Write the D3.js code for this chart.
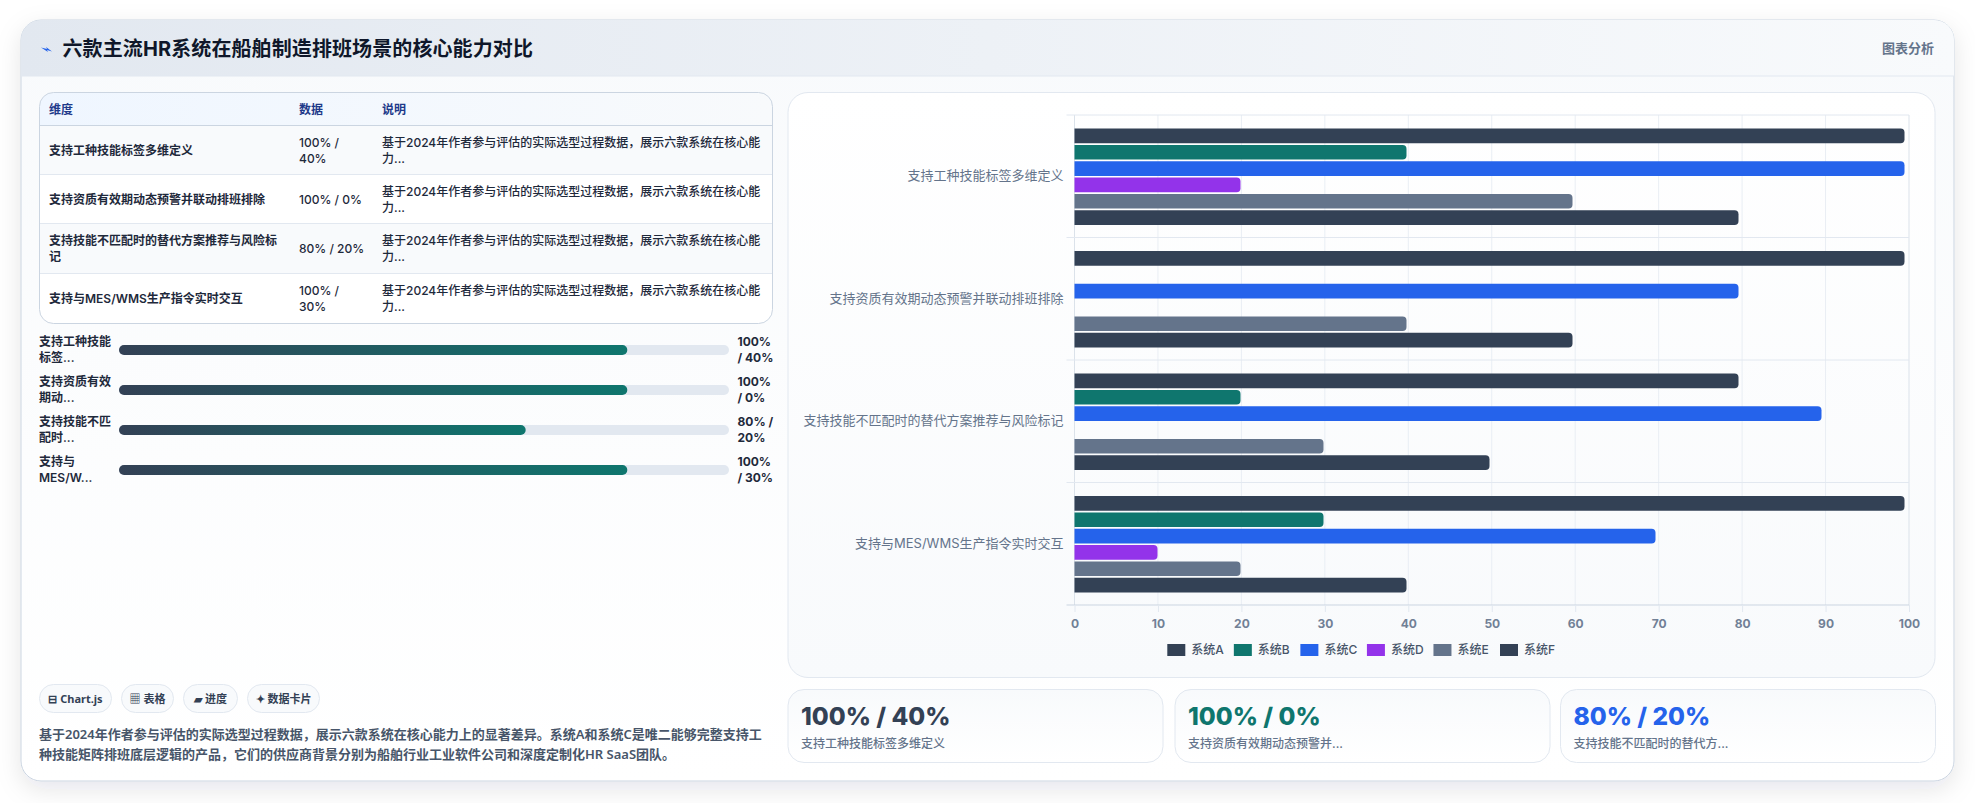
<!DOCTYPE html>
<html lang="zh-CN">
<head>
<meta charset="utf-8">
<title>六款主流HR系统在船舶制造排班场景的核心能力对比</title>
<script src="https://cdnjs.cloudflare.com/ajax/libs/d3/7.9.0/d3.min.js"></script>
<style>
  html, body { margin: 0; padding: 0; background: #fff; overflow: hidden; }
  svg { display: block; font-family: Inter, "Noto Sans CJK SC", sans-serif; }
  text { dominant-baseline: central; }
  .humanist { font-family: "Noto Sans", "Noto Sans CJK SC", sans-serif; }
</style>
</head>
<body>
<svg id="page" width="1975" height="803"></svg>
<script>
// Comparison dimensions and the six systems
const categories = ["支持工种技能标签多维定义", "支持资质有效期动态预警并联动排班排除", "支持技能不匹配时的替代方案推荐与风险标记", "支持与MES/WMS生产指令实时交互"];
const systems = ["系统A", "系统B", "系统C", "系统D", "系统E", "系统F"];
const systemColors = ["#334155", "#0f766e", "#2563eb", "#9333ea", "#64748b", "#334155"];
const systemA = [100, 100, 80, 100];
const systemB = [40, 0, 20, 30];
const systemC = [100, 80, 90, 70];
const systemD = [20, 0, 0, 10];
const systemE = [60, 40, 30, 20];
const systemF = [80, 60, 50, 40];
const seriesValues = [systemA, systemB, systemC, systemD, systemE, systemF];
const xTicks = [0, 10, 20, 30, 40, 50, 60, 70, 80, 90, 100];

// Table
const tableHead = ["维度", "数据", "说明"];
const tableDimLines = [["支持工种技能标签多维定义"], ["支持资质有效期动态预警并联动排班排除"], ["支持技能不匹配时的替代方案推荐与风险标", "记"], ["支持与MES/WMS生产指令实时交互"]];
const tableDataLines = [["100% /", "40%"], ["100% / 0%"], ["80% / 20%"], ["100% /", "30%"]];
const tableNoteLines = ["基于2024年作者参与评估的实际选型过程数据，展示六款系统在核心能", "力..."];

// Progress rows
const progressLabels = [["支持工种技能", "标签..."], ["支持资质有效", "期动..."], ["支持技能不匹", "配时..."], ["支持与", "MES/W..."]];
const progressValues = [100, 100, 80, 100];
const progressText = [["100%", "/ 40%"], ["100%", "/ 0%"], ["80% /", "20%"], ["100%", "/ 30%"]];

// Footer items
const chips = ["⊟ Chart.js", "▦ 表格", "▰ 进度", "✦ 数据卡片"];
const summaryLines = ["基于2024年作者参与评估的实际选型过程数据，展示六款系统在核心能力上的显著差异。系统A和系统C是唯二能够完整支持工", "种技能矩阵排班底层逻辑的产品，它们的供应商背景分别为船舶行业工业软件公司和深度定制化HR SaaS团队。"];
const cardValues = ["100% / 40%", "100% / 0%", "80% / 20%"];
const cardLabels = ["支持工种技能标签多维定义", "支持资质有效期动态预警并...", "支持技能不匹配时的替代方..."];
const cardColors = ["#334155", "#0f766e", "#2563eb"];

const svg = d3.select("#page");
const defs = svg.append("defs");

function linear(id, stops, x2 = "100%", y2 = "0%") {
  const g = defs.append("linearGradient").attr("id", id).attr("x1", "0%").attr("y1", "0%").attr("x2", x2).attr("y2", y2);
  stops.forEach(([o, c]) => g.append("stop").attr("offset", o).attr("stop-color", c));
}
linear("headBg", [["0%", "#e2e8f0"], ["100%", "#f8fafc"]]);
linear("cardBg", [["0%", "#f8fafc"], ["100%", "#ffffff"]], "0%", "100%");
linear("panelBg", [["0%", "#ffffff"], ["100%", "#f8fafc"]], "0%", "100%");
linear("tableHeadBg", [["0%", "#eff6ff"], ["100%", "#f8fafc"]]);
linear("fillBg", [["0%", "#334155"], ["100%", "#0f766e"]]);
linear("tileBg", [["0%", "#f8fafc"], ["100%", "#ffffff"]], "0%", "100%");
const shadow = defs.append("filter").attr("id", "cardShadow").attr("x", "-5%").attr("y", "-10%").attr("width", "110%").attr("height", "125%");
shadow.append("feDropShadow").attr("dx", 0).attr("dy", 8).attr("stdDeviation", 12).attr("flood-color", "#0f172a").attr("flood-opacity", 0.1);
defs.append("clipPath").attr("id", "cardClip").append("rect").attr("x", 21).attr("y", 20).attr("width", 1933).attr("height", 761).attr("rx", 20);
defs.append("clipPath").attr("id", "tableClip").append("rect").attr("x", 39.5).attr("y", 92.5).attr("width", 733).attr("height", 231).attr("rx", 14);

function label(parent, x, y, str, size, weight, fill, anchor = "start") {
  return parent.append("text").attr("x", x).attr("y", y).attr("font-size", size).attr("font-weight", weight)
    .attr("fill", fill).attr("text-anchor", anchor).text(str);
}

// Main card and its header
svg.append("rect").attr("x", 21).attr("y", 20).attr("width", 1933).attr("height", 761).attr("rx", 20)
  .attr("fill", "url(#cardBg)").attr("stroke", "#cbd5e1").attr("filter", "url(#cardShadow)");
const cardBody = svg.append("g").attr("clip-path", "url(#cardClip)");
cardBody.append("rect").attr("x", 21).attr("y", 20).attr("width", 1933).attr("height", 56).attr("fill", "url(#headBg)");
cardBody.append("line").attr("x1", 21).attr("x2", 1954).attr("y1", 76).attr("y2", 76).attr("stroke", "#e2e8f0");
svg.append("path").attr("d", "M41 47.5 L47 49 L46 47 L52 51.5 L47 50 L48 52 Z").attr("fill", "#2563eb");
label(svg, 62.5, 49, "六款主流HR系统在船舶制造排班场景的核心能力对比", 20, 700, "#0f172a").attr("letter-spacing", 0.1);
label(svg, 1934, 48, "图表分析", 13, 600, "#64748b", "end");

// Table built from its column arrays
const colX = [49, 299, 382];
const rowEdges = [125.5, 174.5, 223.5, 273.5, 323.5];
const rowCenters = [150, 199, 248.5, 298];
const table = svg.append("g");
const tableInner = table.append("g").attr("clip-path", "url(#tableClip)");
tableInner.append("rect").attr("x", 39.5).attr("y", 92.5).attr("width", 733).attr("height", 231).attr("fill", "#fff");
tableInner.append("rect").attr("x", 39.5).attr("y", 92.5).attr("width", 733).attr("height", 33).attr("fill", "url(#tableHeadBg)");
tableInner.selectAll("rect.row").data(rowCenters).join("rect").attr("class", "row")
  .attr("x", 39.5).attr("width", 733).attr("y", (d, i) => rowEdges[i]).attr("height", (d, i) => rowEdges[i + 1] - rowEdges[i])
  .attr("fill", (d, i) => i % 2 ? "#ffffff" : "#f8fafc");
tableInner.selectAll("line.rule").data(rowEdges.slice(0, 4)).join("line").attr("class", "rule")
  .attr("x1", 39.5).attr("x2", 772.5).attr("y1", d => d).attr("y2", d => d)
  .attr("stroke", (d, i) => i ? "#e2e8f0" : "#cbd5e1");
table.append("rect").attr("x", 39.5).attr("y", 92.5).attr("width", 733).attr("height", 231).attr("rx", 14)
  .attr("fill", "none").attr("stroke", "#cbd5e1");
tableHead.forEach((h, i) => label(table, colX[i], 109, h, 12, 700, "#1e3a8a"));

function stacked(parent, x, cy, lines, size, weight, fill, lh = 16) {
  lines.forEach((ln, i) => label(parent, x, cy + (i - (lines.length - 1) / 2) * lh, ln, size, weight, fill));
}
categories.forEach((c, i) => {
  stacked(table, colX[0], rowCenters[i], tableDimLines[i], 12, 600, "#1e293b");
  stacked(table, colX[1], rowCenters[i], tableDataLines[i], 12, 500, "#1e293b");
  stacked(table, colX[2], rowCenters[i], tableNoteLines, 12, 500, "#1e293b");
});

// Progress bars: full track corresponds to 120 on the value scale
const progressX = d3.scaleLinear().domain([0, 120]).range([119, 729]);
const progressY = d3.scaleBand().domain(d3.range(progressValues.length)).range([330, 490]);
const progress = svg.append("g");
progressValues.forEach((v, i) => {
  const cy = progressY(i) + progressY.bandwidth() / 2;
  stacked(progress, 39, cy - 0.5, progressLabels[i], 12, 600, "#1e293b");
  stacked(progress, 737.5, cy - 0.5, progressText[i], 12, 700, "#1e293b");
  progress.append("rect").attr("x", progressX(0)).attr("y", cy - 5).attr("width", progressX(120) - progressX(0)).attr("height", 10).attr("rx", 5).attr("fill", "#e2e8f0");
  progress.append("rect").attr("x", progressX(0)).attr("y", cy - 5).attr("width", progressX(v) - progressX(0)).attr("height", 10).attr("rx", 5).attr("fill", "url(#fillBg)");
});

// Chips and summary paragraph
const chipEdges = [[39, 112], [121, 174], [183, 238], [247, 320]];
chips.forEach((c, i) => {
  const [a, b] = chipEdges[i];
  svg.append("rect").attr("x", a + .5).attr("y", 684.5).attr("width", b - a - 1).attr("height", 28).attr("rx", 14).attr("fill", "#f8fafc").attr("stroke", "#e2e8f0");
  label(svg, (a + b) / 2, 698.5, c, 11, 700, "#334155", "middle").attr("class", "humanist");
});
summaryLines.forEach((ln, i) => label(svg, 39, 733.5 + i * 20.5, ln, 13, 600, "#475569").attr("class", "humanist"));

// Chart panel
svg.append("rect").attr("x", 788).attr("y", 92.5).attr("width", 1147).attr("height", 585).attr("rx", 20)
  .attr("fill", "url(#panelBg)").attr("stroke", "#e2e8f0");

const plot = { left: 1074.5, right: 1909, top: 115, bottom: 605 };
const x = d3.scaleLinear().domain([0, 100]).range([plot.left, plot.right]);
// Bars stop just short of the grid scale, as in a nearly settled transition
const barX = d3.scaleLinear().domain([0, 100]).range([plot.left, plot.left + 830]);
const y = d3.scaleBand().domain(categories).range([plot.top, plot.bottom]);
const inner = d3.scaleBand().domain(systems).range([y.bandwidth() * 0.1 + 0.5, y.bandwidth() * 0.9 + 0.5]).paddingInner(0.1).paddingOuter(0.05);

const chart = svg.append("g");
chart.append("g").selectAll("line").data(xTicks).join("line")
  .attr("x1", d => x(d)).attr("x2", d => x(d)).attr("y1", plot.top).attr("y2", plot.bottom)
  .attr("stroke", (d, i) => i === 0 || i === 10 ? "#dbe2ea" : "#e9eef4");
chart.append("g").selectAll("line").data([...categories.map(c => y(c)), plot.bottom]).join("line")
  .attr("x1", plot.left - 8).attr("x2", plot.right).attr("y1", d => d).attr("y2", d => d)
  .attr("stroke", (d, i) => i === 4 ? "#cbd5e1" : "#e2e8f0");

function barPath(v, cat, s) {
  const top = y(cat) + inner(s), h = inner.bandwidth(), x0 = barX(0), x1 = barX(v), r = Math.min(4, x1 - x0);
  const p = d3.path();
  p.moveTo(x0, top);
  p.lineTo(x1 - r, top);
  p.quadraticCurveTo(x1, top, x1, top + r);
  p.lineTo(x1, top + h - r);
  p.quadraticCurveTo(x1, top + h, x1 - r, top + h);
  p.lineTo(x0, top + h);
  p.closePath();
  return p.toString();
}
systems.forEach((s, si) => {
  chart.append("g").selectAll("path").data(seriesValues[si].map((v, ci) => ({ v, c: categories[ci] })).filter(d => d.v > 0)).join("path")
    .attr("d", d => barPath(d.v, d.c, s)).attr("fill", systemColors[si]);
});

const xAxis = d3.axisBottom(x).tickValues(xTicks).tickSize(7).tickPadding(7);
const xG = chart.append("g").attr("transform", `translate(0,${plot.bottom})`).call(xAxis);
xG.select(".domain").remove();
xG.selectAll(".tick line").attr("stroke", "#e2e8f0");
xG.selectAll(".tick text").attr("font-family", "Inter, 'Noto Sans CJK SC', sans-serif").attr("font-size", 12).attr("font-weight", 700).attr("fill", "#718096").attr("dy", ".35em");

const yAxis = d3.axisLeft(y).tickSize(0).tickPadding(11);
const yG = chart.append("g").attr("transform", `translate(${plot.left},0)`).call(yAxis);
yG.select(".domain").remove();
yG.selectAll(".tick text").attr("font-family", "Inter, 'Noto Sans CJK SC', sans-serif").attr("font-size", 13).attr("fill", "#64748b").attr("dy", -1);

// Legend
const legendX = d3.scalePoint().domain(systems).range([1167.3, 1500]);
systems.forEach((s, i) => {
  svg.append("rect").attr("x", legendX(s)).attr("y", 644).attr("width", 18).attr("height", 12).attr("fill", systemColors[i]);
  label(svg, legendX(s) + 24, 649, s, 12, 500, "#475569");
});

// Summary tiles
const tileEdges = [[788, 1163], [1175, 1550], [1560.5, 1935.5]];
cardValues.forEach((v, i) => {
  const [a, b] = tileEdges[i];
  svg.append("rect").attr("x", a).attr("y", 689.5).attr("width", b - a).attr("height", 73).attr("rx", 16).attr("fill", "url(#tileBg)").attr("stroke", "#e2e8f0");
  label(svg, a + 13, 716, v, 24.5, 800, cardColors[i]);
  label(svg, a + 13, 743, cardLabels[i], 12, 500, "#64748b");
});
</script>
</body>
</html>
